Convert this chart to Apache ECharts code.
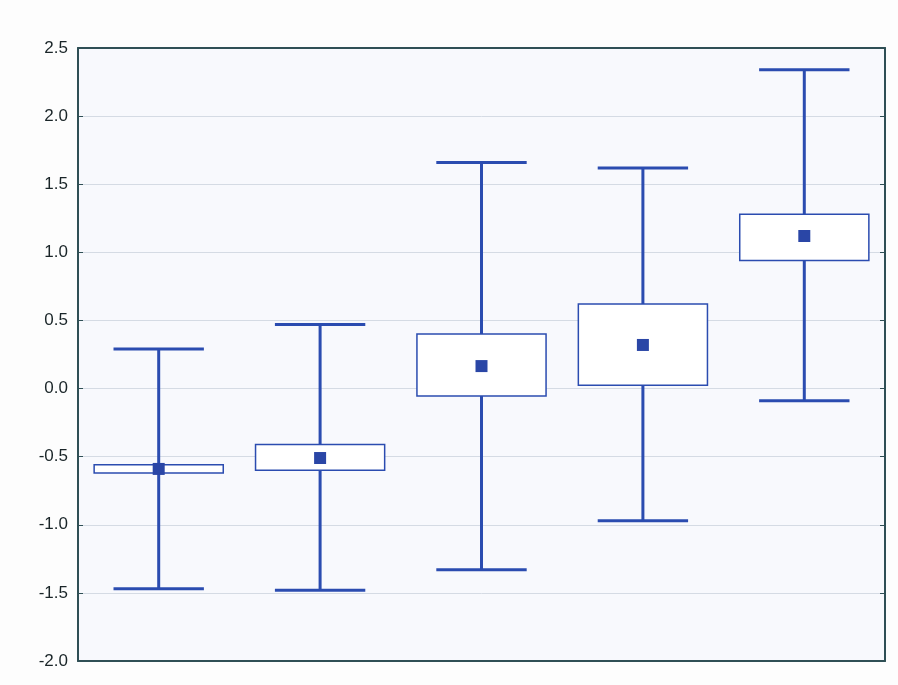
<!DOCTYPE html>
<html>
<head>
<meta charset="utf-8">
<script src="https://cdn.jsdelivr.net/npm/echarts@6/dist/echarts.min.js"></script>
<style>
  html, body { margin: 0; padding: 0; background: #fdfdfd; }
  #main { width: 898px; height: 685px; }
</style>
</head>
<body>
<div id="main"></div>
<script>
const categories = ["1", "2", "3", "4", "5"];
const whiskerLow = [-1.47, -1.48, -1.33, -0.97, -0.09];
const boxLow = [-0.62, -0.60, -0.055, 0.025, 0.94];
const means = [-0.59, -0.51, 0.165, 0.32, 1.12];
const boxHigh = [-0.56, -0.41, 0.40, 0.62, 1.28];
const whiskerHigh = [0.29, 0.47, 1.66, 1.62, 2.34];
const yTicks = [-2.0, -1.5, -1.0, -0.5, 0.0, 0.5, 1.0, 1.5, 2.0, 2.5];

const blue = "#2b4cb0";
const axisColor = "#2f4f55";

const rows = categories.map((c, i) => [i, whiskerLow[i], boxLow[i], means[i], boxHigh[i], whiskerHigh[i]]);

function renderItem(params, api) {
  const i = api.value(0);
  const band = api.size([1, 0])[0];
  const boxW = band * 0.8;
  const capW = band * 0.56;
  const pLo = api.coord([i, api.value(1)]);
  const pQ1 = api.coord([i, api.value(2)]);
  const pMean = api.coord([i, api.value(3)]);
  const pQ3 = api.coord([i, api.value(4)]);
  const pHi = api.coord([i, api.value(5)]);
  const cx = pMean[0];
  const lineStyle = { stroke: blue, lineWidth: 3 };
  return {
    type: "group",
    children: [
      { type: "line", shape: { x1: cx, y1: pHi[1], x2: cx, y2: pLo[1] }, style: lineStyle },
      { type: "line", shape: { x1: cx - capW / 2, y1: pHi[1], x2: cx + capW / 2, y2: pHi[1] }, style: lineStyle },
      { type: "line", shape: { x1: cx - capW / 2, y1: pLo[1], x2: cx + capW / 2, y2: pLo[1] }, style: lineStyle },
      {
        type: "rect",
        shape: { x: cx - boxW / 2, y: pQ3[1], width: boxW, height: pQ1[1] - pQ3[1] },
        style: { fill: "#ffffff", stroke: blue, lineWidth: 1.5 }
      },
      {
        type: "rect",
        shape: { x: cx - 6, y: pMean[1] - 6, width: 12, height: 12 },
        style: { fill: "#2a46a6" }
      }
    ]
  };
}

const chart = echarts.init(document.getElementById("main"));
chart.setOption({
  animation: false,
  grid: {
    left: 78, right: 13, top: 48, bottom: 24,
    show: true, backgroundColor: "#f8f9fd", borderWidth: 0
  },
  xAxis: [
    {
      type: "category", data: categories, position: "bottom",
      axisLine: { onZero: false, lineStyle: { color: axisColor, width: 2 } },
      axisTick: { inside: true, alignWithLabel: true, length: 5, lineStyle: { color: axisColor } },
      axisLabel: { show: false }
    },
    {
      type: "category", data: categories, position: "top",
      axisLine: { onZero: false, lineStyle: { color: axisColor, width: 2 } },
      axisTick: { inside: true, alignWithLabel: true, length: 5, lineStyle: { color: axisColor } },
      axisLabel: { show: false }
    }
  ],
  yAxis: [
    {
      type: "value", min: -2, max: 2.5, interval: 0.5, position: "left",
      axisLine: { show: true, onZero: false, lineStyle: { color: axisColor, width: 2 } },
      axisTick: { show: true, inside: true, length: 5, lineStyle: { color: axisColor } },
      axisLabel: {
        color: "#1a2528", fontFamily: "Liberation Sans", fontSize: 17, margin: 10,
        formatter: v => (yTicks.includes(v) ? v.toFixed(1) : "")
      },
      splitLine: { show: true, lineStyle: { color: "#d5dbe4", width: 1 } }
    },
    {
      type: "value", min: -2, max: 2.5, interval: 0.5, position: "right",
      axisLine: { show: true, onZero: false, lineStyle: { color: axisColor, width: 2 } },
      axisTick: { show: true, inside: true, length: 5, lineStyle: { color: axisColor } },
      axisLabel: { show: false },
      splitLine: { show: false }
    }
  ],
  series: [
    {
      type: "custom",
      renderItem: renderItem,
      encode: { x: 0, y: [1, 2, 3, 4, 5] },
      data: rows
    }
  ]
});
</script>
</body>
</html>
